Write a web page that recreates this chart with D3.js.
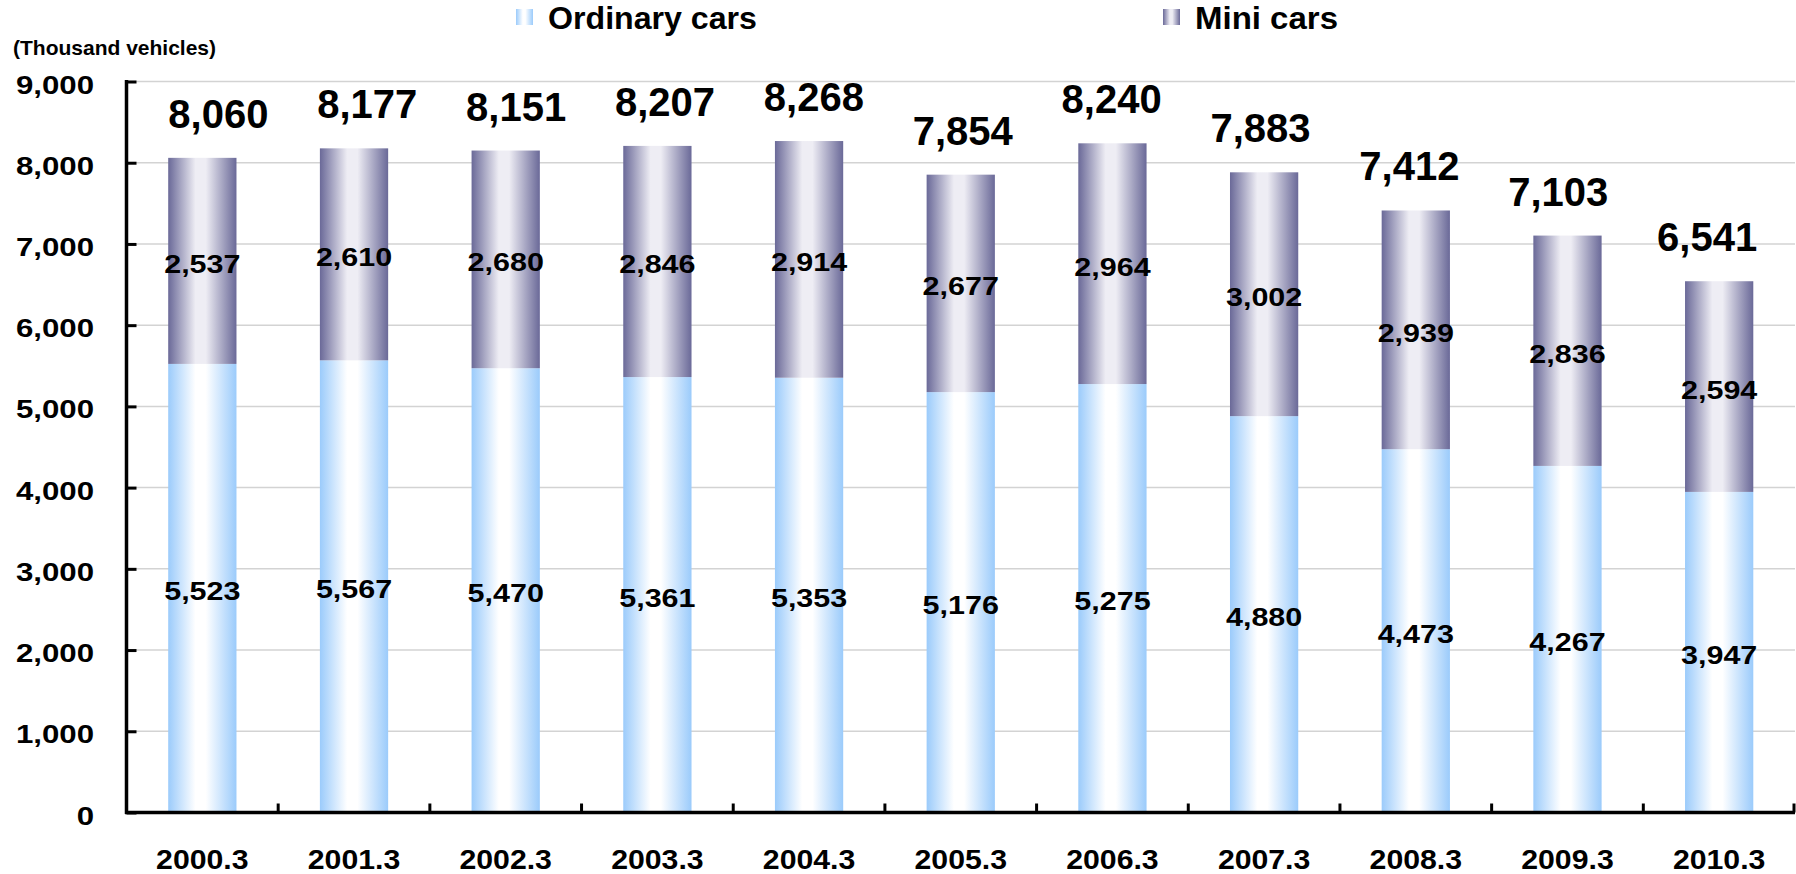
<!DOCTYPE html>
<html>
<head>
<meta charset="utf-8">
<script src="https://cdn.jsdelivr.net/npm/d3@7"></script>
<style>
  html, body { margin: 0; padding: 0; background: #ffffff; }
  svg { display: block; font-family: Arial, "Liberation Sans", sans-serif; font-weight: bold; }
</style>
</head>
<body>
<svg id="chart" width="1796" height="874"></svg>
<script>
const categories = ["2000.3","2001.3","2002.3","2003.3","2004.3","2005.3","2006.3","2007.3","2008.3","2009.3","2010.3"];
const ordinaryCars = [5523, 5567, 5470, 5361, 5353, 5176, 5275, 4880, 4473, 4267, 3947];
const miniCars     = [2537, 2610, 2680, 2846, 2914, 2677, 2964, 3002, 2939, 2836, 2594];
const totals       = [8060, 8177, 8151, 8207, 8268, 7854, 8240, 7883, 7412, 7103, 6541];
const yTicks = [0, 1000, 2000, 3000, 4000, 5000, 6000, 7000, 8000, 9000];
const seriesNames = ["Ordinary cars", "Mini cars"];
const unitLabel = "(Thousand vehicles)";

const svg = d3.select("#chart");
const fmt = d3.format(",");

const plot = { left: 126.5, right: 1795, top: 81.5, bottom: 812.5 };

const x = d3.scaleBand().domain(categories).range([plot.left, plot.right]).paddingInner(0.55).paddingOuter(0.275);
const y = d3.scaleLinear().domain([0, 9000]).range([plot.bottom, plot.top]);

// gradients
const defs = svg.append("defs");
function grad(id, edge, mid) {
  const g = defs.append("linearGradient").attr("id", id).attr("x1", "0%").attr("x2", "100%").attr("y1", "0%").attr("y2", "0%");
  g.append("stop").attr("offset", "0%").attr("stop-color", edge);
  g.append("stop").attr("offset", "40%").attr("stop-color", mid);
  g.append("stop").attr("offset", "55%").attr("stop-color", mid);
  g.append("stop").attr("offset", "100%").attr("stop-color", edge);
}
grad("gOrd", "#9bcbfb", "#ffffff");
grad("gMini", "#6a6998", "#eeedf4");

// gridlines
svg.append("g").selectAll("line").data(yTicks.filter(d => d > 0)).join("line")
  .attr("x1", plot.left).attr("x2", plot.right)
  .attr("y1", d => y(d)).attr("y2", d => y(d))
  .attr("stroke", "#d3d3d3").attr("stroke-width", 1.5);

// stacked data
const stackData = categories.map((c, i) => ({ cat: c, idx: i, ord: ordinaryCars[i], mini: miniCars[i], total: totals[i] }));
const stack = d3.stack().keys(["ord", "mini"])(stackData);
const fills = ["url(#gOrd)", "url(#gMini)"];

stack.forEach((layer, li) => {
  svg.append("g").selectAll("rect").data(layer).join("rect")
    .attr("x", d => x(d.data.cat))
    .attr("width", x.bandwidth())
    .attr("y", d => y(d[1]))
    .attr("height", d => y(d[0]) - y(d[1]))
    .attr("fill", fills[li]);
});

// segment labels
stack.forEach((layer) => {
  svg.append("g").selectAll("text").data(layer).join("text")
    .attr("transform", d => `translate(${x(d.data.cat) + x.bandwidth() / 2},${(y(d[0]) + y(d[1])) / 2 + 12}) scale(1.22,1)`)
    .attr("text-anchor", "middle")
    .attr("font-size", 25)
    .attr("fill", "#000")
    .text(d => fmt(d[1] - d[0]));
});

// totals (labels drift slightly across the chart as in the source)
svg.append("g").selectAll("text").data(stackData).join("text")
  .attr("x", d => x(d.cat) + x.bandwidth() / 2 + 16 - 2.8 * d.idx)
  .attr("y", d => y(d.ord + d.mini) - 30)
  .attr("text-anchor", "middle")
  .attr("font-size", 40)
  .attr("fill", "#000")
  .text(d => fmt(d.total));

// y axis
const yAxis = d3.axisRight(y).tickValues(yTicks).tickSize(10).tickFormat("");
const yg = svg.append("g").attr("transform", `translate(${plot.left},0)`).call(yAxis);
yg.select(".domain").remove();
yg.selectAll(".tick line").attr("stroke", "#000").attr("stroke-width", 3);
svg.append("line").attr("x1", plot.left).attr("x2", plot.left).attr("y1", plot.top - 1.5).attr("y2", plot.bottom + 1.5)
  .attr("stroke", "#000").attr("stroke-width", 3.5);

// y tick labels
svg.append("g").selectAll("text").data(yTicks).join("text")
  .attr("transform", d => `translate(94,${y(d) + 12}) scale(1.2,1)`)
  .attr("text-anchor", "end")
  .attr("font-size", 26)
  .attr("fill", "#000")
  .text(d => fmt(d));

// x axis
svg.append("line").attr("x1", plot.left - 1.5).attr("x2", plot.right).attr("y1", plot.bottom).attr("y2", plot.bottom)
  .attr("stroke", "#000").attr("stroke-width", 3.5);
const bounds = categories.map(c => x(c) - x.step() * x.paddingInner() / 2 + x.step());
svg.append("g").selectAll("line").data(bounds).join("line")
  .attr("x1", d => Math.min(d, plot.right - 1)).attr("x2", d => Math.min(d, plot.right - 1))
  .attr("y1", plot.bottom).attr("y2", plot.bottom - 9)
  .attr("stroke", "#000").attr("stroke-width", 3);

svg.append("g").selectAll("text").data(categories).join("text")
  .attr("transform", d => `translate(${x(d) + x.bandwidth() / 2},869) scale(1.08,1)`)
  .attr("text-anchor", "middle")
  .attr("font-size", 28)
  .attr("fill", "#000")
  .text(d => d);

// unit label
svg.append("text").attr("x", 13).attr("y", 55).attr("font-size", 21).attr("fill", "#000").text(unitLabel);

// legend
const legendPos = [{ sx: 516, tx: 548, w: 209 }, { sx: 1163, tx: 1195, w: 143 }];
const legendFills = ["url(#gOrd)", "url(#gMini)"];
seriesNames.forEach((name, i) => {
  const p = legendPos[i];
  svg.append("rect").attr("x", p.sx).attr("y", 9).attr("width", 17).attr("height", 16).attr("fill", legendFills[i]);
  svg.append("text").attr("x", p.tx).attr("y", 29).attr("font-size", 31).attr("fill", "#000")
    .attr("textLength", p.w).attr("lengthAdjust", "spacingAndGlyphs")
    .text(name);
});
</script>
</body>
</html>
